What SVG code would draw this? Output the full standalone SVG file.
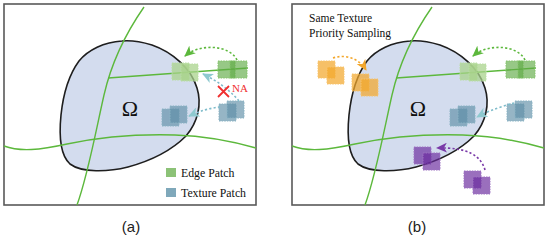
<svg xmlns="http://www.w3.org/2000/svg" width="550" height="243" viewBox="0 0 550 243">
<style>
.frame{fill:#fff;stroke:#595959;stroke-width:1.6}
.blob{fill:#d3dcee;stroke:#1e1e1e;stroke-width:1.6}
.gl{fill:none;stroke:#5cb83c;stroke-width:1.4}
.pl{stroke-width:1;stroke-dasharray:1.6 1}
.lg{fill:#a9d38c;fill-opacity:0.75;stroke:#b9dea2}
.dg{fill:#5faa45;fill-opacity:0.65;stroke:#86c46c}
.tl{fill:#5d8ea6;fill-opacity:0.65;stroke:#8ab3c4}
.or{fill:#f3a72c;fill-opacity:0.72;stroke:#f7c46f}
.pu{fill:#6a2b9e;fill-opacity:0.68;stroke:#9e73c2}
.ar{fill:none;stroke-width:1.6;stroke-dasharray:2.2 2.2}
.serif{font-family:"Liberation Serif","Times New Roman",serif;fill:#111}
.sans{font-family:"Liberation Sans",Arial,sans-serif;fill:#222}
</style>
<defs>
<marker id="mg" markerUnits="userSpaceOnUse" markerWidth="12" markerHeight="10" refX="10" refY="5" orient="auto"><path d="M0,0 L11,5 L0,10 L3,5 Z" fill="#5cb83c"/></marker>
<marker id="mt" markerUnits="userSpaceOnUse" markerWidth="12" markerHeight="10" refX="10" refY="5" orient="auto"><path d="M0,0 L11,5 L0,10 L3,5 Z" fill="#8ec9cf"/></marker>
<marker id="mo" markerUnits="userSpaceOnUse" markerWidth="12" markerHeight="10" refX="10" refY="5" orient="auto"><path d="M0,0 L11,5 L0,10 L3,5 Z" fill="#f3a72c"/></marker>
<marker id="mp" markerUnits="userSpaceOnUse" markerWidth="12" markerHeight="10" refX="10" refY="5" orient="auto"><path d="M0,0 L11,5 L0,10 L3,5 Z" fill="#7a3aa8"/></marker>
<path id="blobShape" d="M122,41 C104,42 88,50 79,61 C68,76 63,96 61,115 C59,135 60,155 70,164 C82,173 108,172 128,167 C150,161 172,150 186,136 C198,122 202,104 197,88 C191,68 172,52 152,45 C142,42 132,40 122,41 Z"/>
</defs>

<!-- Panel (a) -->
<g id="panel-a">
<rect class="frame" x="4" y="4" width="252" height="201"/>
<use href="#blobShape" class="blob"/>
<g id="edges-a">
<path class="gl" d="M144,7 C128,30 112,60 104,95 C96,130 88,175 77,205"/>
<path class="gl" d="M108,78 L248,68"/>
<path class="gl" d="M4,146 C20,152 40,150 67,144 C100,137 140,134 175,135 C205,136 235,142 256,148"/>
</g>
<text class="serif" x="130" y="116" font-size="22" text-anchor="middle">Ω</text>
<g id="edge-patch-a1" class="pl"><rect class="lg" x="172" y="63" width="17" height="17"/><rect class="lg" x="181" y="64" width="17" height="17"/></g>
<g id="edge-patch-a2" class="pl"><rect class="dg" x="218" y="61" width="17" height="17"/><rect class="dg" x="230" y="61" width="17" height="17"/></g>
<g id="tex-patch-a1" class="pl"><rect class="tl" x="162" y="109" width="17" height="17"/><rect class="tl" x="170" y="106" width="17" height="17"/></g>
<g id="tex-patch-a2" class="pl"><rect class="tl" x="219" y="104" width="17" height="17"/><rect class="tl" x="227" y="101" width="17" height="17"/></g>
<g id="connectors-a">
<path class="ar" stroke="#5cb83c" d="M237,60 C230,45 200,43 185,56" marker-end="url(#mg)"/>
<path class="ar" stroke="#7fbccb" d="M239,101 C228,88 215,80 203,74" marker-end="url(#mt)"/>
<path class="ar" stroke="#7fbccb" d="M220,107 C210,108 200,111 189,116" marker-end="url(#mt)"/>
</g>
<g id="na-mark">
<path d="M218,86 L229,97 M229,86 L218,97" stroke="#f03030" stroke-width="1.8"/>
<text class="serif" x="232" y="92" font-size="11" style="fill:#f03030">NA</text>
</g>
<g id="legend">
<rect x="166" y="168" width="10" height="9" fill="#8cc277"/>
<text class="serif" x="181" y="177" font-size="11.8">Edge Patch</text>
<rect x="166" y="188" width="10" height="9" fill="#7fa8ba"/>
<text class="serif" x="181" y="197" font-size="11.8">Texture Patch</text>
</g>
<text class="sans" x="131" y="232" font-size="15" text-anchor="middle">(a)</text>
</g>

<!-- Panel (b) -->
<g id="panel-b">
<rect class="frame" x="292" y="4" width="252" height="201"/>
<use href="#blobShape" class="blob" transform="translate(288,0)"/>
<g id="edges-b" transform="translate(288,0)">
<path class="gl" d="M144,7 C128,30 112,60 104,95 C96,130 88,175 77,205"/>
<path class="gl" d="M108,78 L248,68"/>
<path class="gl" d="M4,146 C20,152 40,150 67,144 C100,137 140,134 175,135 C205,136 235,142 256,148"/>
</g>
<text class="serif" x="418" y="116" font-size="22" text-anchor="middle">Ω</text>
<text class="serif" x="309" y="22" font-size="11.5">Same Texture</text>
<text class="serif" x="309" y="37" font-size="11.5">Priority Sampling</text>
<g id="edge-patch-b1" class="pl"><rect class="lg" x="460" y="63" width="17" height="17"/><rect class="lg" x="469" y="64" width="17" height="17"/></g>
<g id="edge-patch-b2" class="pl"><rect class="dg" x="506" y="61" width="17" height="17"/><rect class="dg" x="518" y="61" width="17" height="17"/></g>
<g id="tex-patch-b1" class="pl"><rect class="tl" x="450" y="109" width="17" height="17"/><rect class="tl" x="458" y="106" width="17" height="17"/></g>
<g id="tex-patch-b2" class="pl"><rect class="tl" x="507" y="104" width="17" height="17"/><rect class="tl" x="515" y="101" width="17" height="17"/></g>
<g id="orange-patch-1" class="pl"><rect class="or" x="318" y="61" width="17" height="17"/><rect class="or" x="327" y="67" width="17" height="17"/></g>
<g id="orange-patch-2" class="pl"><rect class="or" x="352" y="74" width="17" height="17"/><rect class="or" x="361" y="79" width="17" height="17"/></g>
<g id="purple-patch-1" class="pl"><rect class="pu" x="414" y="147" width="17" height="17"/><rect class="pu" x="423" y="153" width="17" height="17"/></g>
<g id="purple-patch-2" class="pl"><rect class="pu" x="464" y="171" width="17" height="17"/><rect class="pu" x="473" y="177" width="17" height="17"/></g>
<g id="connectors-b">
<path class="ar" stroke="#5cb83c" d="M525,60 C518,45 488,43 473,56" marker-end="url(#mg)"/>
<path class="ar" stroke="#7fbccb" d="M514,103 C503,106 490,110 477,117" marker-end="url(#mt)"/>
<path class="ar" stroke="#f3a72c" d="M333,58 C345,54 359,58 366,70" marker-end="url(#mo)"/>
<path class="ar" stroke="#7a3aa8" d="M485,170 C481,156 468,147 437,148" marker-end="url(#mp)"/>
</g>
<text class="sans" x="417" y="232" font-size="15" text-anchor="middle">(b)</text>
</g>
</svg>
